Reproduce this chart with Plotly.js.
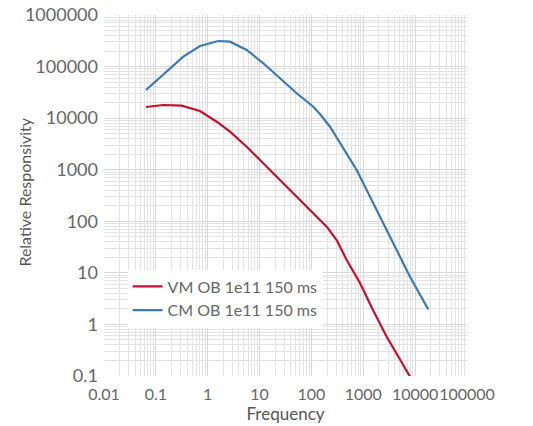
<!DOCTYPE html>
<html>
<head>
<meta charset="utf-8">
<script src="https://cdn.plot.ly/plotly-3.0.1.min.js"></script>
<style>html,body{margin:0;padding:0;background:#fff;}#chart{width:533px;height:426px;}</style>
</head>
<body>
<div id="chart"></div>
<script>
// VM OB 1e11 150 ms
var vmFreq = [0.0646, 0.139, 0.315, 0.71, 1.49, 2.69, 5.65, 11.8, 24.8, 52, 107, 197, 307, 479, 864, 1538, 2827, 7960];
var vmResp = [16440, 17990, 17420, 13770, 8530, 5460, 2795, 1332, 632, 300, 151, 78.5, 43.4, 17.8, 6.36, 1.905, 0.578, 0.098];
// CM OB 1e11 150 ms
var cmFreq = [0.0646, 0.139, 0.338, 0.71, 1.60, 2.69, 5.65, 11.8, 24.8, 52, 108.6, 146, 228, 355, 746, 1560, 3790, 7960, 17900];
var cmResp = [35160, 68700, 155600, 250600, 313400, 303700, 209700, 115800, 59300, 30340, 16670, 12000, 6820, 3250, 988, 223, 37.4, 8.43, 1.96];

var xTickVals = [0.01, 0.1, 1, 10, 100, 1000, 10000, 100000];
var xTickText = ['0.01', '0.1', '1', '10', '100', '1000', '10000', '100000'];
var yTickVals = [0.1, 1, 10, 100, 1000, 10000, 100000, 1000000];
var yTickText = ['0.1', '1', '10', '100', '1000', '10000', '100000', '1000000'];

var font = 'Lato, "Open Sans", sans-serif';
var txt = '#666666';

var traces = [
  {x: vmFreq, y: vmResp, mode: 'lines', name: 'VM OB 1e11 150 ms',
   line: {color: '#c8102e', width: 2.2}},
  {x: cmFreq, y: cmResp, mode: 'lines', name: 'CM OB 1e11 150 ms',
   line: {color: '#3d7ab5', width: 2.2}}
];

var layout = {
  width: 533, height: 426,
  margin: {l: 104, r: 66, t: 15, b: 50},
  paper_bgcolor: '#ffffff', plot_bgcolor: '#ffffff',
  font: {family: font, color: txt, size: 17},
  showlegend: true,
  legend: {x: 0.065, y: 0.295, xanchor: 'left', yanchor: 'top',
           bgcolor: 'rgba(255,255,255,0.95)', borderwidth: 0,
           font: {family: font, size: 16, color: txt}, itemwidth: 30,
           tracegroupgap: 0},
  xaxis: {type: 'log', range: [-2, 5], tickmode: 'array', tickvals: xTickVals, ticktext: xTickText,
          tickangle: 0, ticklabelstandoff: 7,
          showgrid: true, gridcolor: '#d9d9d9', gridwidth: 1, zeroline: false, showline: false,
          ticks: '', tickfont: {family: font, size: 16, color: txt},
          minor: {dtick: 'D1', showgrid: true, gridcolor: '#e3e3e3', gridwidth: 1},
          title: {text: 'Frequency', font: {family: font, size: 17, color: '#555'}, standoff: 3}},
  yaxis: {type: 'log', range: [-1, 6], tickmode: 'array', tickvals: yTickVals, ticktext: yTickText,
          ticklabelstandoff: 5,
          showgrid: true, gridcolor: '#d9d9d9', gridwidth: 1, zeroline: false, showline: false,
          ticks: '', tickfont: {family: font, size: 18, color: txt},
          minor: {dtick: 'D1', showgrid: true, gridcolor: '#e3e3e3', gridwidth: 1}},
  annotations: [
    {text: 'Relative Responsivity', xref: 'paper', yref: 'paper', x: -0.2176, y: 0.508,
     xanchor: 'center', yanchor: 'middle', textangle: -90, showarrow: false,
     font: {family: font, size: 16, color: '#555'}}
  ]
};

Plotly.newPlot('chart', traces, layout, {displayModeBar: false, staticPlot: true});
</script>
</body>
</html>
